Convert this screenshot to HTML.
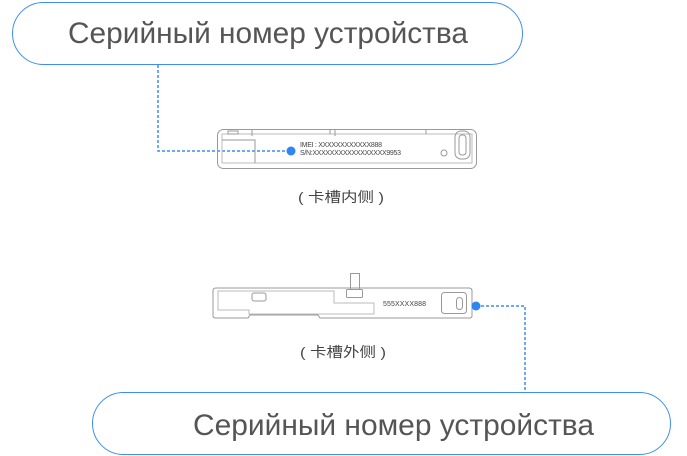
<!DOCTYPE html>
<html><head><meta charset="utf-8"><style>
body{margin:0;background:#fff;}
svg{display:block;}
</style></head><body>
<svg width="687" height="456" viewBox="0 0 687 456" xmlns="http://www.w3.org/2000/svg">
<g fill="none" stroke="#3d8ef0" stroke-width="1">
<rect x="12.5" y="2.5" width="510" height="62" rx="31"/>
<rect x="92.5" y="392.5" width="578" height="62" rx="31"/>
</g>
<g font-family="Liberation Sans, sans-serif" font-size="30" fill="#555">
<text x="68" y="43" textLength="400" lengthAdjust="spacingAndGlyphs">Серийный номер устройства</text>
<text x="193" y="435" textLength="401" lengthAdjust="spacingAndGlyphs">Серийный номер устройства</text>
</g>
<g fill="none" stroke="#3d8ef0" stroke-width="1.5" stroke-dasharray="3,2">
<path d="M158 65 V151 H291"/>
<path d="M476 306 H525 V392"/>
</g>
<g fill="none" stroke="#999" stroke-width="1">
<rect x="217.5" y="129.5" width="259" height="39" rx="6"/>
<path d="M222 134 H472 V163 H222 Z" stroke="#bbb"/>
<rect x="228" y="131" width="10" height="3"/>
<path d="M222 140 H255 V163"/>
<rect x="455" y="131" width="15" height="28" rx="6"/>
<rect x="459" y="135" width="7" height="20" rx="3"/>
<circle cx="444" cy="153" r="3"/>
<path d="M252 130 V136 M330 130 V134 M335 130 V136 M426 130 V134"/>
</g>
<circle cx="291" cy="151" r="4.5" fill="#2f86f0"/>
<g font-family="Liberation Sans, sans-serif" font-size="7" fill="#444">
<text x="300" y="147" textLength="82">IMEI : XXXXXXXXXXXX888</text>
<text x="300" y="155" textLength="101">S/N:XXXXXXXXXXXXXXXXX9953</text>
</g>
<text x="298" y="202" textLength="86" lengthAdjust="spacingAndGlyphs" font-family="Liberation Sans, Noto Sans CJK SC, sans-serif" font-size="14" fill="#444">( 卡槽内侧 )</text>
<g fill="none" stroke="#999" stroke-width="1">
<path d="M219 288 H469 Q472 288 472 291 V316 Q472 318 469 318 H320 L318 315 H250 L248 318 H216 Q213 318 213 316 V291 Q213 288 216 288 Z"/>
<path d="M218 291 H334 V303 H374 V314 H249 V310 H218 Z" stroke="#bbb"/>
<rect x="252" y="293" width="14" height="8" rx="2"/>
<rect x="350.5" y="273.5" width="9" height="16"/>
<rect x="346.5" y="289.5" width="16" height="8" rx="1"/>
<rect x="441.5" y="292.5" width="25" height="21" rx="3"/>
<rect x="456.5" y="297.5" width="6" height="12" rx="3"/>
</g>
<text x="383" y="306" textLength="43" font-family="Liberation Sans, sans-serif" font-size="7" fill="#444">555XXXX888</text>
<circle cx="476" cy="306" r="4.5" fill="#2f86f0"/>
<text x="300" y="357" textLength="86" lengthAdjust="spacingAndGlyphs" font-family="Liberation Sans, Noto Sans CJK SC, sans-serif" font-size="14" fill="#444">( 卡槽外侧 )</text>
</svg>
</body></html>
